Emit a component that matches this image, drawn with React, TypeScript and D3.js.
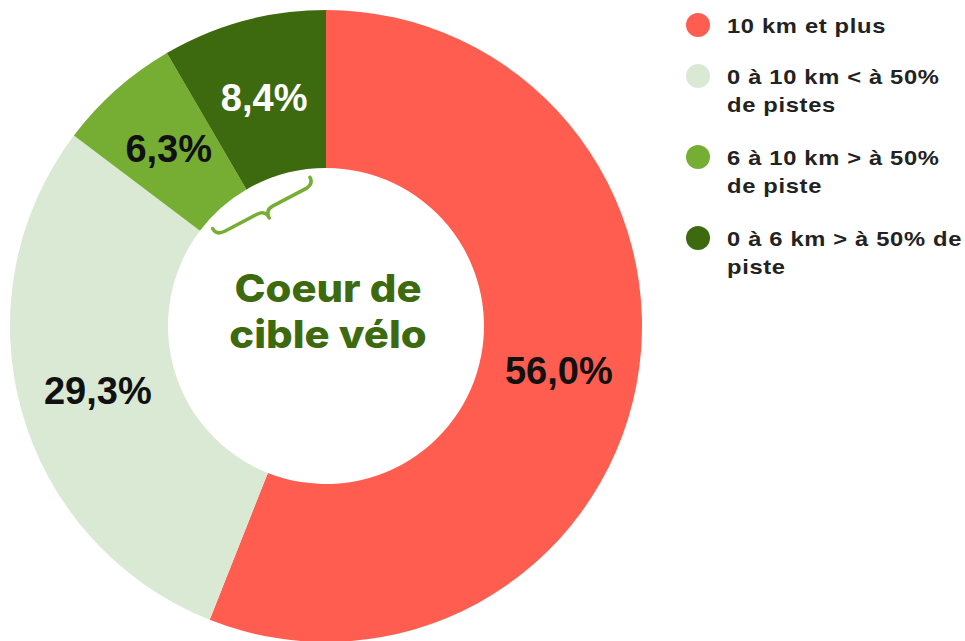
import React, { useEffect, useRef } from 'react';
import * as d3 from 'd3';

const categories = [
  '10 km et plus',
  '0 à 10 km < à 50% de pistes',
  '6 à 10 km > à 50% de piste',
  '0 à 6 km > à 50% de piste',
];
const values = [56.0, 29.3, 6.3, 8.4];
const colors = ['#ff5d4f', '#d9e9d3', '#76ae33', '#3e6a0f'];
const labelColors = ['#111111', '#111111', '#111111', '#ffffff'];
const legendLines = [
  ['10 km et plus'],
  ['0 à 10 km < à 50%', 'de pistes'],
  ['6 à 10 km > à 50%', 'de piste'],
  ['0 à 6 km > à 50% de', 'piste'],
];
const centerLines = ['Coeur de', 'cible vélo'];

const App = () => {
  const ref = useRef<SVGSVGElement>(null);

  useEffect(() => {
    const width = 965;
    const height = 641;
    const cx = 326;
    const cy = 326;
    const outer = 316;
    const inner = 158;

    const svg = d3.select(ref.current);
    svg.selectAll('*').remove();
    svg.attr('width', width).attr('height', height);

    const g = svg.append('g').attr('transform', `translate(${cx},${cy})`);

    const pie = d3.pie<number>().sort(null).value(d => d);
    const arcs = pie(values);
    const arc = d3.arc<d3.PieArcDatum<number>>().innerRadius(inner).outerRadius(outer);

    g.selectAll('path.slice')
      .data(arcs)
      .enter()
      .append('path')
      .attr('class', 'slice')
      .attr('d', arc)
      .attr('fill', (d, i) => colors[i]);

    g.selectAll('text.pct')
      .data(arcs)
      .enter()
      .append('text')
      .attr('class', 'pct')
      .attr('transform', d => `translate(${arc.centroid(d)})`)
      .attr('text-anchor', 'middle')
      .attr('dy', '0.36em')
      .style('font-family', 'Liberation Sans, Arial, sans-serif')
      .style('font-weight', 'bold')
      .style('font-size', '38px')
      .style('fill', (d, i) => labelColors[i])
      .text(d => d3.format('.1f')(d.value).replace('.', ',') + '%');

    // curly brace under the "0 à 6 km" slice, inside the hole
    const last = arcs[arcs.length - 1];
    const braceAngle = (last.startAngle + last.endAngle) / 2 - 0.22;
    const braceR = 131;
    const bx = braceR * Math.sin(braceAngle);
    const by = -braceR * Math.cos(braceAngle);
    const rot = (braceAngle * 180) / Math.PI;
    g.append('path')
      .attr('d', 'M -55,-8 Q -55,0 -45,0 L -9,0 Q 0,0 0,9 Q 0,0 9,0 L 45,0 Q 55,0 55,-8')
      .attr('transform', `translate(${bx},${by}) rotate(${rot})`)
      .attr('fill', 'none')
      .attr('stroke', colors[2])
      .attr('stroke-width', 3.5)
      .attr('stroke-linecap', 'round')
      .attr('stroke-linejoin', 'round');

    g.selectAll('text.center')
      .data(centerLines)
      .enter()
      .append('text')
      .attr('class', 'center')
      .attr('text-anchor', 'middle')
      .attr('transform', (d, i) => `translate(2,${-24 + i * 46}) scale(1.1,1)`)
      .style('font-family', 'Inter, sans-serif')
      .style('font-weight', 800)
      .style('font-size', '38px')
      .style('fill', colors[3])
      .text(d => d);

    const legendY = [25, 76, 157, 238];
    const legend = svg.append('g');
    categories.forEach((c, i) => {
      const item = legend.append('g').attr('transform', `translate(698,${legendY[i]})`);
      item.append('circle').attr('r', 12).attr('fill', colors[i]);
      legendLines[i].forEach((line, j) => {
        item.append('text')
          .attr('transform', `translate(29,${j * 28}) scale(1.13,1)`)
          .attr('dy', '0.36em')
          .style('font-family', 'Liberation Sans, Arial, sans-serif')
          .style('font-weight', 'bold')
          .style('font-size', '21px')
          .style('letter-spacing', '0.6px')
          .style('fill', '#222222')
          .text(line);
      });
    });
  }, []);

  return (
    <div style={{ position: 'absolute', left: 0, top: 0 }}>
      <svg ref={ref} style={{ display: 'block' }} />
    </div>
  );
};

export default App;
